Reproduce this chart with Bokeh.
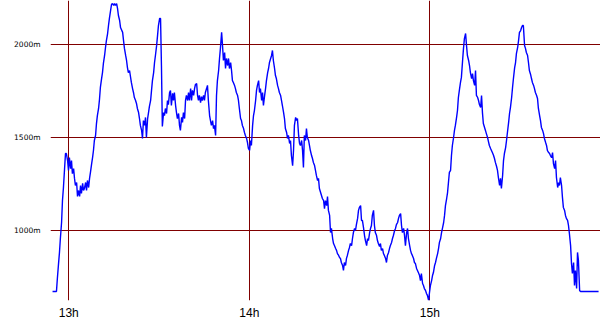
from bokeh.plotting import figure
from bokeh.models import Range1d, FixedTicker
from bokeh.embed import file_html
from bokeh.resources import INLINE

# time in minutes after 12:00, altitude in metres
minutes = [
    54.6, 55.9, 56.2, 56.6, 56.9, 57.2, 57.6, 57.9, 58.2, 58.6, 58.9, 59.2, 59.6, 59.9,
    60.2, 60.6, 60.9, 61.2, 61.6, 61.9, 62.2, 62.6, 62.9, 63.2, 63.6, 63.9, 64.2, 64.6,
    64.9, 65.2, 65.6, 65.9, 66.2, 66.6, 66.9, 67.2, 67.6, 67.9, 68.2, 68.5, 68.9, 69.2,
    69.5, 69.9, 70.2, 70.5, 70.9, 71.2, 71.5, 71.9, 72.2, 72.5, 72.9, 73.2, 73.5, 73.9,
    74.2, 74.5, 74.9, 75.2, 75.5, 75.9, 76.2, 76.5, 76.9, 77.2, 77.9, 78.2, 78.5, 78.9,
    79.2, 79.5, 79.8, 80.2, 80.5, 80.8, 81.2, 81.5, 81.8, 82.2, 82.5, 82.8, 83.2, 83.5,
    83.8, 84.2, 84.5, 84.8, 85.2, 85.5, 85.8, 86.2, 86.5, 86.8, 87.2, 87.5, 87.8, 88.2,
    88.5, 88.8, 89.2, 89.5, 89.8, 90.2, 90.5, 90.8, 91.1, 91.5, 91.8, 92.1, 92.5, 92.8,
    93.1, 93.5, 93.8, 94.1, 94.5, 94.8, 95.1, 95.5, 95.8, 96.1, 96.5, 96.8, 97.1, 97.5,
    97.8, 98.1, 98.5, 98.8, 99.1, 99.5, 99.8, 100.1, 100.5, 100.8, 101.1, 101.5, 101.8,
    102.1, 102.5, 102.8, 103.1, 103.4, 103.8, 104.1, 104.4, 104.8, 105.1, 105.4, 105.8,
    106.1, 106.4, 106.8, 107.1, 107.4, 107.8, 108.1, 108.4, 108.8, 109.1, 109.4, 109.8,
    110.1, 110.4, 110.8, 111.1, 111.4, 111.8, 112.1, 112.4, 112.8, 113.1, 113.4, 113.8,
    114.1, 114.4, 114.7, 115.1, 115.4, 115.7, 116.1, 116.4, 116.7, 117.1, 117.4, 117.7,
    118.1, 118.4, 118.7, 119.1, 119.4, 119.7, 120.1, 120.4, 120.7, 121.1, 121.4, 121.7,
    122.1, 122.4, 122.7, 123.1, 123.4, 123.7, 124.1, 124.4, 124.7, 125.1, 125.4, 125.7,
    126.1, 126.4, 126.7, 127.1, 127.4, 127.7, 128.0, 128.4, 128.7, 129.0, 129.4, 129.7,
    130.0, 130.4, 130.7, 131.0, 131.4, 131.7, 132.0, 132.4, 132.7, 133.0, 133.4, 133.7,
    134.0, 134.4, 134.7, 135.0, 135.4, 135.7, 136.0, 136.4, 136.7, 137.0, 137.4, 137.7,
    138.0, 138.3, 138.7, 139.0, 139.3, 139.7, 140.0, 140.3, 140.7, 141.0, 141.3, 141.7,
    142.0, 142.3, 142.7, 143.0, 143.3, 143.7, 144.0, 144.3, 144.7, 145.0, 145.3, 145.7,
    146.0, 146.3, 146.7, 147.0, 147.3, 147.7, 148.0, 148.3, 148.7, 149.0, 149.3, 149.7,
    150.0, 150.3, 150.6, 151.0, 151.3, 151.6, 152.0, 152.3, 152.6, 153.0, 153.3, 153.6,
    154.0, 154.3, 154.6, 155.0, 155.3, 155.6, 156.0, 156.3, 156.6, 157.0, 157.3, 157.6,
    158.0, 158.3, 158.6, 159.0, 159.3, 159.6, 160.0, 160.3, 160.6, 160.9, 161.3, 161.6,
    161.9, 162.3, 162.6, 162.9, 163.3, 163.6, 163.9, 164.3, 164.6, 164.9, 165.3, 165.6,
    165.9, 166.3, 166.6, 166.9, 167.3, 167.6, 167.9, 168.3, 168.6, 168.9, 169.3, 169.6,
    169.9, 170.3, 170.6, 170.9, 171.3, 171.6, 171.9, 172.3, 172.6, 172.9, 173.3, 173.6,
    173.9, 174.2, 174.6, 174.9, 175.2, 175.6, 175.9, 176.2, 176.6, 176.9, 177.2, 177.6,
    177.9, 178.2, 178.6, 178.9, 179.2, 179.6, 179.9, 180.2, 180.6, 180.9, 181.2, 181.6,
    181.9, 182.2, 182.6, 182.9, 183.2, 183.6, 183.9, 184.2, 184.6, 184.9, 185.2, 185.6,
    185.9, 186.2, 186.5, 186.9, 187.2, 187.5, 187.9, 188.2, 188.5, 188.9, 189.2, 189.5,
    189.9, 190.2, 190.5, 190.9, 191.2, 191.5, 191.9, 192.2, 192.5, 192.9, 193.2, 193.5,
    193.9, 194.2, 194.5, 194.9, 195.2, 195.5, 195.9, 196.2, 196.5, 196.9, 197.2, 197.5,
    197.8, 198.2, 198.5, 198.8, 199.2, 199.5, 199.8, 200.2, 200.5, 200.8, 201.2, 201.5,
    201.8, 202.2, 202.5, 202.8, 203.2, 203.5, 203.8, 204.2, 204.5, 204.8, 205.2, 205.5,
    205.8, 206.2, 206.5, 206.8, 207.2, 207.5, 207.8, 208.2, 208.5, 208.8, 209.2, 209.5,
    209.8, 210.2, 210.5, 210.8, 211.1, 211.5, 211.8, 212.1, 212.5, 212.8, 213.1, 213.5,
    213.8, 214.1, 214.5, 214.8, 215.1, 215.5, 215.8, 216.1, 216.5, 216.8, 217.1, 217.5,
    217.8, 218.1, 218.5, 218.8, 219.1, 219.5, 219.8, 220.1, 220.5, 220.8, 221.1, 221.5,
    221.8, 222.1, 222.5, 222.8, 223.1, 223.4, 223.8, 224.1, 224.4, 224.8, 225.1, 225.4,
    225.8, 226.1, 226.4, 226.8, 227.1, 227.4, 227.8, 228.1, 228.4, 228.8, 229.1, 229.4,
    229.8, 230.1, 236.1,
]

altitude = [
    672, 672, 742, 823, 882, 957, 1043, 1161, 1226, 1333, 1414, 1414, 1376, 1323,
    1392, 1333, 1376, 1306, 1333, 1280, 1242, 1258, 1183, 1215, 1183, 1242, 1199, 1253,
    1215, 1226, 1258, 1215, 1269, 1231, 1280, 1312, 1360, 1392, 1430, 1484, 1511, 1575,
    1618, 1656, 1704, 1769, 1817, 1849, 1898, 1941, 1984, 2021, 2059, 2102, 2140, 2183,
    2215, 2220, 2210, 2220, 2210, 2220, 2194, 2156, 2129, 2091, 2065, 2021, 1979, 1941,
    1914, 1876, 1849, 1860, 1828, 1796, 1763, 1742, 1715, 1699, 1683, 1656, 1634, 1602,
    1565, 1538, 1495, 1591, 1565, 1608, 1500, 1602, 1634, 1667, 1699, 1753, 1806, 1849,
    1903, 1941, 1995, 2048, 2102, 2140, 2140, 1887, 1559, 1634, 1618, 1656, 1629, 1699,
    1677, 1742, 1753, 1672, 1737, 1699, 1742, 1672, 1634, 1602, 1629, 1565, 1538, 1608,
    1581, 1634, 1602, 1699, 1726, 1699, 1742, 1699, 1763, 1699, 1753, 1726, 1763,
    1785, 1790, 1726, 1699, 1726, 1688, 1720, 1699, 1726, 1699, 1742, 1763,
    1780, 1699, 1618, 1591, 1565, 1591, 1548, 1565, 1511, 1726, 1806, 1860,
    1925, 1979, 2065, 1995, 1914, 1957, 1871, 1925, 1887, 1925, 1871, 1903,
    1860, 1806, 1796, 1780, 1763, 1742, 1726, 1699, 1656, 1602, 1591, 1565,
    1548, 1527, 1511, 1495, 1473, 1441, 1430, 1484, 1457, 1565, 1618, 1645,
    1699, 1753, 1780, 1806, 1742, 1763, 1699, 1742, 1672, 1726, 1763, 1806,
    1849, 1871, 1903, 1925, 1941, 1968, 1914, 1871, 1833, 1817, 1780, 1763,
    1742, 1726, 1699, 1672, 1634, 1602, 1548, 1527, 1495, 1511, 1468, 1484,
    1403, 1349, 1430, 1565, 1608, 1591, 1602, 1511, 1468, 1457, 1484, 1430,
    1339, 1511, 1484, 1548, 1500, 1484, 1457, 1430, 1403, 1387, 1366, 1349,
    1323, 1296, 1269, 1280, 1226, 1204, 1188, 1172, 1161, 1118, 1161, 1134,
    1183, 1108, 1081, 989, 1011, 957, 930, 919, 903, 893, 876, 866,
    855, 850, 828, 812, 785, 828, 812, 850, 866, 893, 909, 930,
    919, 957, 989, 1011, 1000, 1032, 1065, 1108, 1124, 1134, 1054, 1054,
    1011, 973, 946, 919, 957, 946, 989, 1011, 1027, 1081, 1108, 1027,
    989, 973, 946, 930, 914, 930, 893, 903, 876, 866, 850, 828,
    866, 882, 903, 919, 936, 957, 973, 1000, 1011, 1032, 1043, 1065,
    1081, 1091, 1027, 989, 1011, 973, 919, 989, 1011, 957, 919, 893,
    876, 866, 850, 828, 823, 796, 785, 774, 758, 731, 769, 715,
    704, 688, 677, 661, 651, 624, 667, 704, 731, 758, 774, 812,
    828, 850, 876, 903, 936, 957, 989, 1011, 1043, 1081, 1134, 1172,
    1204, 1258, 1312, 1323, 1403, 1457, 1500, 1538, 1565, 1608, 1645, 1715,
    1763, 1796, 1823, 1914, 1979, 2032, 2059, 1995, 1941, 1914, 1887, 1849,
    1817, 1844, 1806, 1780, 1860, 1726, 1715, 1699, 1677, 1661, 1726, 1634,
    1575, 1554, 1538, 1521, 1500, 1478, 1457, 1441, 1430, 1419, 1403, 1387,
    1366, 1344, 1323, 1285, 1242, 1280, 1226, 1296, 1376, 1414, 1446, 1484,
    1527, 1581, 1629, 1661, 1715, 1769, 1817, 1876, 1903, 1952, 1984, 2021,
    2065, 2075, 2091, 2102, 2102, 1995, 1979, 1957, 1941, 1903, 1860, 1839,
    1817, 1796, 1780, 1763, 1742, 1726, 1710, 1656, 1618, 1591, 1554, 1538,
    1521, 1495, 1473, 1457, 1430, 1419, 1414, 1403, 1392, 1419, 1360, 1333,
    1376, 1285, 1231, 1258, 1242, 1285, 1242, 1177, 1124, 1108, 1081, 1065,
    1054, 1027, 984, 919, 823, 769, 828, 704, 785, 688, 882, 839,
    677, 672, 672,
]

hour_ticks = [60, 120, 180]
hour_labels = ["13h", "14h", "15h"]
alt_ticks = [1000, 1500, 2000]
alt_labels = ["1000m", "1500m", "2000m"]

p = figure(
    width=600, height=330,
    x_range=Range1d(53.92, 236.74), y_range=Range1d(623.7, 2236.5),
    output_backend="svg", toolbar_location=None,
    min_border_left=50, min_border_right=0, min_border_top=0, min_border_bottom=30,
)
p.outline_line_color = None
p.background_fill_color = "white"
p.border_fill_color = "white"

p.line(minutes, altitude, line_color="#0000ff", line_width=1.4)

for ax in (p.xaxis, p.yaxis):
    ax.axis_line_color = None
    ax.major_tick_line_color = None
    ax.minor_tick_line_color = None
    ax.major_tick_out = 0
    ax.major_tick_in = 0
    ax.major_label_text_color = "black"

p.xaxis.ticker = FixedTicker(ticks=hour_ticks)
p.xaxis.major_label_overrides = dict(zip(hour_ticks, hour_labels))
p.xaxis.major_label_text_font = "Liberation Sans"
p.xaxis.major_label_text_font_size = "12px"
p.xaxis.major_label_standoff = 5

p.yaxis.ticker = FixedTicker(ticks=alt_ticks)
p.yaxis.major_label_overrides = dict(zip(alt_ticks, alt_labels))
p.yaxis.major_label_text_font = "DejaVu Sans"
p.yaxis.major_label_text_font_size = "7.5px"
p.yaxis.major_label_text_baseline = "top"
p.yaxis.major_label_standoff = 10

for g in (p.xgrid, p.ygrid):
    g.grid_line_color = "#800000"
    g.grid_line_width = 1

open("out.html", "w").write(file_html(p, INLINE))
